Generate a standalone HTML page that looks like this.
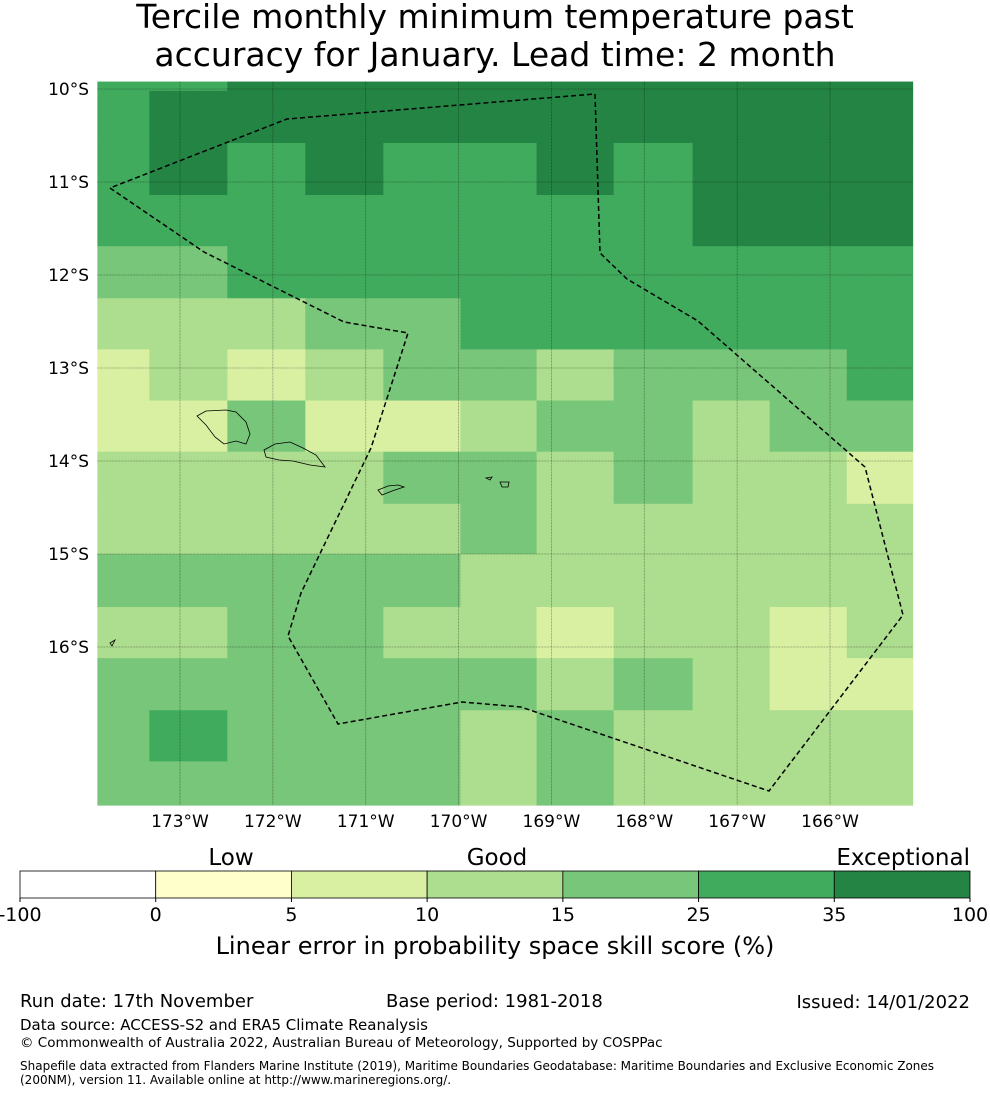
<!DOCTYPE html>
<html><head><meta charset="utf-8">
<style>
html,body{margin:0;padding:0;background:#fff;}
body{width:990px;height:1095px;position:relative;font-family:"Liberation Sans","DejaVu Sans",sans-serif;overflow:hidden;}
</style></head>
<body>
<svg id="chart" width="990" height="1095" style="position:absolute;left:0;top:0" font-family="DejaVu Sans, Liberation Sans, sans-serif">
  <text x="495" y="28" font-size="33" text-anchor="middle">Tercile monthly minimum temperature past</text>
  <text x="495" y="66" font-size="33" text-anchor="middle">accuracy for January. Lead time: 2 month</text>
  <g id="cells"></g>
  <g id="grid"></g>
  <g id="islands" fill="none" stroke="#000" stroke-width="0.8">
    <path d="M197,416 L206,411 L226,410 L236,412 L246,422 L250,434 L246,444 L236,441 L224,444 L215,437 L206,425 Z"/>
    <path d="M264,450 L275,444 L290,442 L303,448 L316,455 L325,467 L310,465 L293,461 L279,460 L266,457 Z"/>
    <path d="M378,490 L388,486 L398,485 L404,487 L392,491 L382,495 Z"/>
    <path d="M486,478 L492,477 L490,480 Z"/>
    <path d="M500,482 L509,482 L508,487 L502,487 Z"/>
    <path d="M110,643 L115,640 L112,646 Z"/>
  </g>
  <polyline id="eez" fill="none" stroke="#000" stroke-width="1.5" stroke-dasharray="5,3"
    points="110,188 204,252 344,322 408,333 371,448 301,593 288,636 338,724 462,702 521,707 769,791 903,615 865,467 698,321 627,279 600,253 595,94 287,119 110,188"/>
  <g id="yticks"></g>
  <g id="xticks"></g>
  <g id="cbar"></g>
  <text x="231" y="865" font-size="23" text-anchor="middle">Low</text>
  <text x="497" y="865" font-size="23" text-anchor="middle">Good</text>
  <text x="970" y="865" font-size="23" text-anchor="end">Exceptional</text>
  <text x="495" y="954" font-size="24" text-anchor="middle">Linear error in probability space skill score (%)</text>
  <text x="20" y="1007" font-size="18">Run date: 17th November</text>
  <text x="386" y="1007" font-size="18">Base period: 1981-2018</text>
  <text x="970" y="1008" font-size="18" text-anchor="end">Issued: 14/01/2022</text>
  <text x="20" y="1030" font-size="15">Data source: ACCESS-S2 and ERA5 Climate Reanalysis</text>
  <text x="20" y="1047" font-size="13.5">© Commonwealth of Australia 2022, Australian Bureau of Meteorology, Supported by COSPPac</text>
  <text x="20" y="1070" font-size="12">Shapefile data extracted from Flanders Marine Institute (2019), Maritime Boundaries Geodatabase: Maritime Boundaries and Exclusive Economic Zones</text>
  <text x="20" y="1084" font-size="12">(200NM), version 11. Available online at http://www.marineregions.org/.</text>
</svg>
<script>
const colEdgesLonW = [173.89,173.33,172.49,171.65,170.81,169.98,169.16,168.33,167.48,166.65,165.82,165.11];
const rowEdgesLatS = [9.92,10.02,10.58,11.14,11.69,12.25,12.80,13.35,13.90,14.46,15.0,15.57,16.12,16.68,17.23,17.70];
const cellLevels = [
 [5,5,6,6,6,6,6,6,6,6,6],
 [5,6,6,6,6,6,6,6,6,6,6],
 [5,6,5,6,5,5,6,5,6,6,6],
 [5,5,5,5,5,5,5,5,6,6,6],
 [4,4,5,5,5,5,5,5,5,5,5],
 [3,3,3,4,4,5,5,5,5,5,5],
 [2,3,2,3,4,4,3,4,4,4,5],
 [2,2,4,2,2,3,4,4,3,4,4],
 [3,3,3,3,4,4,3,4,3,3,2],
 [3,3,3,3,3,4,3,3,3,3,3],
 [4,4,4,4,4,3,3,3,3,3,3],
 [3,3,4,4,3,3,2,3,3,2,3],
 [4,4,4,4,4,4,3,4,3,2,2],
 [4,5,4,4,4,3,4,3,3,3,3],
 [4,4,4,4,4,3,4,3,3,3,3]
];
const lonTicks = [173,172,171,170,169,168,167,166];
const latTicks = [10,11,12,13,14,15,16];
const cbarTicks = ["-100","0","5","10","15","25","35","100"];
const palette = ["#ffffff","#ffffcc","#d9f0a3","#addd8e","#78c679","#41ab5d","#238443"];

const X = w => 180 + (173 - w) * 92.86;
const Y = s => 89 + (s - 10) * 93;
const NS = "http://www.w3.org/2000/svg";
const mk = (t, a, p) => { const e = document.createElementNS(NS, t); for (const k in a) e.setAttribute(k, a[k]); p.appendChild(e); return e; };

const cells = document.getElementById('cells');
const x0 = X(colEdgesLonW[0]), x1 = X(colEdgesLonW[colEdgesLonW.length-1]);
const y0 = Y(rowEdgesLatS[0]), y1 = Y(rowEdgesLatS[rowEdgesLatS.length-1]);
cellLevels.forEach((row, r) => row.forEach((v, c) => {
  const xa = X(colEdgesLonW[c]), xb = X(colEdgesLonW[c+1]);
  const ya = Y(rowEdgesLatS[r]), yb = Y(rowEdgesLatS[r+1]);
  const el = mk('rect', {x: xa, y: ya, width: xb - xa + 0.5, height: yb - ya + 0.5, fill: palette[v]}, cells);
  
  
}));

const grid = document.getElementById('grid');
const xt = document.getElementById('xticks');
lonTicks.forEach(w => {
  const x = X(w);
  mk('line', {x1: x, x2: x, y1: y0, y2: y1, stroke: '#000', 'stroke-opacity': 0.35, 'stroke-width': 0.8, 'stroke-dasharray': '2,1'}, grid);
  const t = mk('text', {x: x, y: 827, 'font-size': 17, 'text-anchor': 'middle'}, xt);
  t.textContent = w + '°W';
  
  
});
const yt = document.getElementById('yticks');
latTicks.forEach(s => {
  const y = Y(s);
  mk('line', {x1: x0, x2: x1, y1: y, y2: y, stroke: '#000', 'stroke-opacity': 0.35, 'stroke-width': 0.8, 'stroke-dasharray': '2,1'}, grid);
  const t = mk('text', {x: 89, y: y + 6, 'font-size': 17, 'text-anchor': 'end'}, yt);
  t.textContent = s + '°S';
  
  
});

const cb = document.getElementById('cbar');
const cbX = 20, cbW = 950, cbY = 871, cbH = 27, segW = cbW / 7;
for (let i = 0; i < 7; i++) {
  const r = mk('rect', {x: cbX + i * segW, y: cbY, width: segW, height: cbH, fill: palette[i], stroke: '#000', 'stroke-width': 0.8}, cb);
  
  
}
cbarTicks.forEach((lab, i) => {
  const x = cbX + i * segW;
  mk('line', {x1: x, x2: x, y1: cbY + cbH, y2: cbY + cbH + 4, stroke: '#000'}, cb);
  const t = mk('text', {x: x, y: 921, 'font-size': 19, 'text-anchor': 'middle'}, cb);
  t.textContent = lab;
  
  
});
</script>
</body></html>
